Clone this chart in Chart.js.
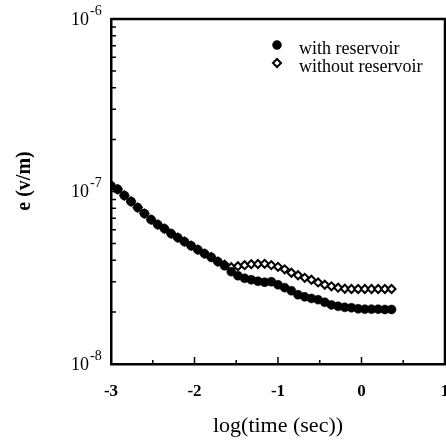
<!DOCTYPE html>
<html>
<head>
<meta charset="utf-8">
<script src="https://cdn.jsdelivr.net/npm/chart.js@4/dist/chart.umd.min.js"></script>
<style>
  html, body { margin: 0; padding: 0; background: #fff; }
</style>
</head>
<body>
<canvas id="chart" width="446" height="442"></canvas>
<script>
// log10 of time (sec)
const logTime = [
  -3.00, -2.92, -2.84, -2.76, -2.68, -2.60, -2.52, -2.44, -2.36, -2.28,
  -2.20, -2.12, -2.04, -1.96, -1.88, -1.80, -1.72, -1.64, -1.56, -1.48,
  -1.40, -1.32, -1.24, -1.16, -1.08, -1.00, -0.92, -0.84, -0.76, -0.68,
  -0.60, -0.52, -0.44, -0.36, -0.28, -0.20, -0.12, -0.04, 0.04, 0.12,
  0.20, 0.28, 0.36
];
// e (v/m)
const withReservoir = [
  1.08e-7, 1.03e-7, 9.48e-8, 8.75e-8, 8.07e-8, 7.45e-8, 6.87e-8, 6.43e-8, 6.09e-8, 5.70e-8,
  5.40e-8, 5.12e-8, 4.85e-8, 4.60e-8, 4.36e-8, 4.16e-8, 3.92e-8, 3.71e-8, 3.43e-8, 3.25e-8,
  3.14e-8, 3.08e-8, 3.02e-8, 2.98e-8, 3.00e-8, 2.88e-8, 2.77e-8, 2.66e-8, 2.52e-8, 2.45e-8,
  2.40e-8, 2.36e-8, 2.28e-8, 2.20e-8, 2.16e-8, 2.13e-8, 2.12e-8, 2.09e-8, 2.08e-8, 2.08e-8,
  2.08e-8, 2.07e-8, 2.07e-8
];
const withoutReservoir = [
  1.08e-7, 1.03e-7, 9.48e-8, 8.75e-8, 8.07e-8, 7.45e-8, 6.87e-8, 6.43e-8, 6.09e-8, 5.70e-8,
  5.40e-8, 5.12e-8, 4.85e-8, 4.60e-8, 4.36e-8, 4.16e-8, 3.92e-8, 3.76e-8, 3.64e-8, 3.69e-8,
  3.74e-8, 3.79e-8, 3.80e-8, 3.81e-8, 3.74e-8, 3.66e-8, 3.54e-8, 3.38e-8, 3.27e-8, 3.16e-8,
  3.08e-8, 2.97e-8, 2.88e-8, 2.82e-8, 2.77e-8, 2.73e-8, 2.72e-8, 2.72e-8, 2.72e-8, 2.72e-8,
  2.72e-8, 2.72e-8, 2.72e-8
];
const seriesLabels = ["with reservoir", "without reservoir"];

const xTickLabels = ["-3", "-2", "-1", "0", "1"];
const xMajorTicks = [-2, -1, 0];
const xMinorTicks = [-2.5, -1.5, -0.5, 0.5];
const yDecades = [1e-8, 1e-7, 1e-6];
const yExponents = ["-8", "-7", "-6"];
const yMinorTicks = [2e-8, 3e-8, 4e-8, 5e-8, 6e-8, 7e-8, 8e-8, 9e-8,
                     2e-7, 3e-7, 4e-7, 5e-7, 6e-7, 7e-7, 8e-7, 9e-7];
const yTitle = "e (v/m)";

const serif = "'Liberation Serif', 'Times New Roman', serif";

const toPoints = (ys) => logTime.map((x, i) => ({ x: x, y: ys[i] }));

// frame, inner ticks, tick labels, y title, legend
const decorations = {
    id: "decorations",
    afterDraw(chart) {
        const ctx = chart.ctx;
        const area = chart.chartArea;
        const xs = chart.scales.x;
        const ys = chart.scales.y;
        ctx.save();
        ctx.strokeStyle = "#000";
        ctx.fillStyle = "#000";

        // top and right border
        ctx.lineWidth = 2.5;
        ctx.beginPath();
        ctx.moveTo(area.left, area.top);
        ctx.lineTo(area.right, area.top);
        ctx.lineTo(area.right, area.bottom);
        ctx.stroke();

        // inner ticks
        ctx.lineWidth = 1.5;
        ctx.beginPath();
        xMajorTicks.forEach(v => {
            const px = xs.getPixelForValue(v);
            ctx.moveTo(px, area.bottom);
            ctx.lineTo(px, area.bottom - 7);
        });
        xMinorTicks.forEach(v => {
            const px = xs.getPixelForValue(v);
            ctx.moveTo(px, area.bottom);
            ctx.lineTo(px, area.bottom - 4);
        });
        yMinorTicks.forEach(v => {
            const py = ys.getPixelForValue(v);
            ctx.moveTo(area.left, py);
            ctx.lineTo(area.left + 5, py);
        });
        const p7 = ys.getPixelForValue(1e-7);
        ctx.moveTo(area.left, p7);
        ctx.lineTo(area.left + 7, p7);
        ctx.stroke();

        // x tick labels
        ctx.font = "bold 17px " + serif;
        ctx.textAlign = "center";
        ctx.textBaseline = "alphabetic";
        xTickLabels.forEach((t, i) => {
            ctx.fillText(t, xs.getPixelForValue(i - 3), area.bottom + 32);
        });

        // y tick labels: 10 with superscript exponent
        yDecades.forEach((v, i) => {
            const py = ys.getPixelForValue(v);
            ctx.font = "18px " + serif;
            ctx.textAlign = "right";
            ctx.fillText("10", 89, py + 5.5);
            ctx.font = "14px " + serif;
            ctx.textAlign = "left";
            ctx.fillText(yExponents[i], 90, py - 4.5);
        });

        // y title, rotated
        ctx.save();
        ctx.translate(25, 181);
        ctx.rotate(-Math.PI / 2);
        ctx.font = "bold 20px " + serif;
        ctx.textAlign = "center";
        ctx.textBaseline = "middle";
        ctx.fillText(yTitle, 0, 0);
        ctx.restore();

        // legend
        const rows = [45, 63];
        chart.data.datasets.forEach((ds, i) => {
            ctx.fillStyle = ds.backgroundColor;
            ctx.strokeStyle = ds.borderColor;
            ctx.lineWidth = ds.borderWidth;
            Chart.helpers.drawPoint(ctx, {
                pointStyle: ds.pointStyle,
                radius: ds.pointRadius,
                rotation: 0,
                borderWidth: ds.borderWidth
            }, 277, rows[i]);
            ctx.fillStyle = "#000";
            ctx.font = "18px " + serif;
            ctx.textAlign = "left";
            ctx.fillText(ds.label, 299, rows[i] + 9);
        });
        ctx.restore();
    }
};

new Chart(document.getElementById("chart"), {
    type: "scatter",
    data: {
        datasets: [
            {
                label: seriesLabels[0],
                data: toPoints(withReservoir),
                pointStyle: "circle",
                pointRadius: 4.5,
                backgroundColor: "#000",
                borderColor: "#000",
                borderWidth: 0.5,
                showLine: false
            },
            {
                label: seriesLabels[1],
                data: toPoints(withoutReservoir),
                pointStyle: "rectRot",
                pointRadius: 4,
                backgroundColor: "#fff",
                borderColor: "#000",
                borderWidth: 2,
                showLine: false
            }
        ]
    },
    options: {
        responsive: false,
        devicePixelRatio: 1,
        animation: false,
        layout: { autoPadding: false, padding: { top: 19, right: 1, left: 0, bottom: 0 } },
        plugins: {
            legend: { display: false },
            tooltip: { enabled: false }
        },
        scales: {
            x: {
                type: "linear",
                min: -3,
                max: 1,
                ticks: { display: false, stepSize: 1 },
                grid: { display: false, drawTicks: false },
                border: { display: true, color: "#000", width: 2.5 },
                title: {
                    display: true,
                    text: "log(time (sec))",
                    color: "#000",
                    font: { family: serif, size: 22 },
                    padding: { top: 0, bottom: 3 }
                },
                afterFit: s => { s.height = 78; }
            },
            y: {
                type: "logarithmic",
                min: 1e-8,
                max: 1e-6,
                ticks: { display: false },
                grid: { display: false, drawTicks: false },
                border: { display: true, color: "#000", width: 2.5 },
                afterFit: s => { s.width = 111; }
            }
        }
    },
    plugins: [decorations]
});
</script>
</body>
</html>
